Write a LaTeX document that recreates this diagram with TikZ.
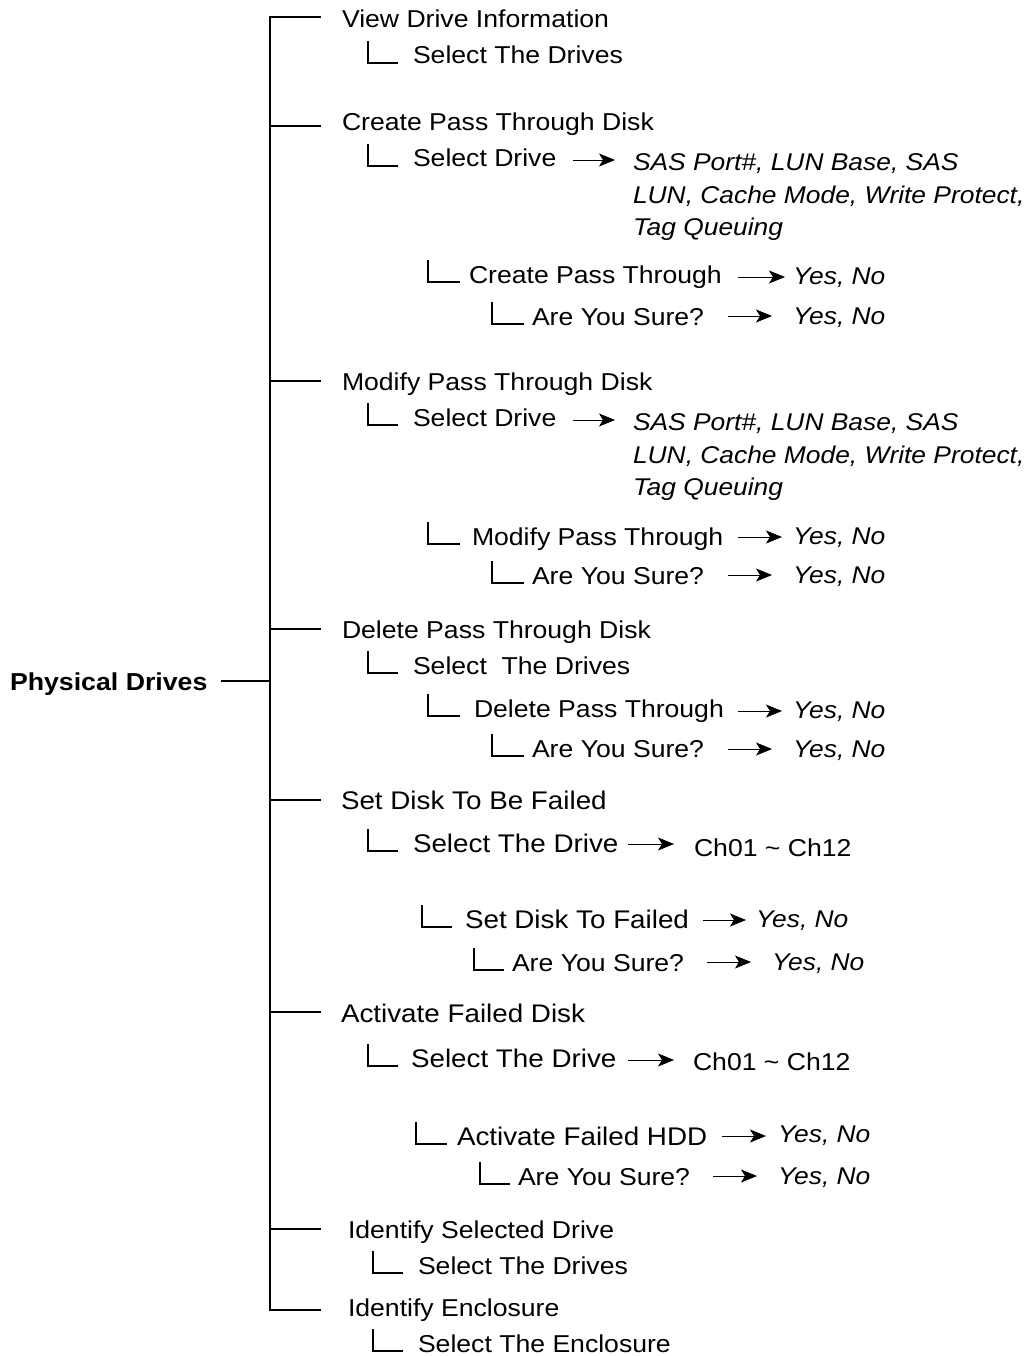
\documentclass[tikz,border=0pt]{standalone}
\usepackage{fontspec}
\setmainfont{Liberation Sans}[FakeStretch=1.09]
\usetikzlibrary{arrows.meta,calc}
\tikzset{
  txt/.style={anchor=base west,inner sep=0pt,outer sep=0pt,text height=17pt,text depth=5pt},
  big/.style={font=\fontsize{25.5}{25.5}\selectfont},
  opt/.style={txt,font=\fontsize{24.2}{24.2}\selectfont\itshape},
  tree/.style={line width=2.2pt,line cap=rect},
  lbrs/.style={line width=1.9pt},
  arr/.style={line width=0.7pt,-{Stealth[length=16pt,width=13pt,inset=4pt]}}
}
% L-bracket in front of node #1: vertical at base west - #2, horizontal end at base west - #3
\newcommand{\Lbrk}[3]{\draw[lbrs] ($(#1.base west)+(-#2,-23)$) |- ($(#1.base west)+(-#3,-1)$);}
% arrow from source #1 (start offset #2, vertical offset #3) to target #4 (gap #5), id #6
\newcommand{\Arr}[6]{%
  \coordinate (#6s) at ($(#1.base west)+(#2,#3)$);%
  \coordinate (#6e) at ($(#4.base west)+(-#5,0)$);%
  \draw[arr] (#6s) -- (#6s -| #6e);}
\begin{document}
\begin{tikzpicture}[x=1pt,y=-1pt,every node/.style={font=\fontsize{24.4}{24.4}\selectfont}]
\useasboundingbox (0,0) rectangle (1032,1356);

% root
\node[txt,font=\fontsize{24.5}{24.5}\selectfont\bfseries] (pd) at (10,690) {Physical Drives};

% trunk
\coordinate (ttop) at (270,17);
\coordinate (tbot) at (270,1310);
\draw[tree] (ttop) -- (tbot);
\draw[tree] ($(pd.base east)+(15,-9)$) -- (270,681);

% top-level items
\node[txt] (v1) at (342,28) {View Drive Information};
\node[txt] (c1) at (342,131) {Create Pass Through Disk};
\node[txt] (m1) at (342,390) {Modify Pass Through Disk};
\node[txt] (d1) at (342,638) {Delete Pass Through Disk};
\node[txt,big] (s1) at (341,809) {Set Disk To Be Failed};
\node[txt,big] (a1) at (341,1022) {Activate Failed Disk};
\node[txt] (i1) at (348,1238) {Identify Selected Drive};
\node[txt] (i2) at (348,1316) {Identify Enclosure};

\foreach \n/\ty in {v1/17,c1/126,m1/381,d1/629,s1/800,a1/1012,i1/1229,i2/1310}{
  \draw[tree] (270,\ty) -- (320,\ty);
}

% View Drive Information
\node[txt] (v1s) at (413,64) {Select The Drives};
\Lbrk{v1s}{45}{15}

% Create Pass Through Disk
\node[txt] (c1s) at (413,167) {Select Drive};
\Lbrk{c1s}{45}{15}
\node[opt] (c1o1) at (633,171) {SAS Port\#, LUN Base, SAS};
\node[opt] (c1o2) at (633,204) {LUN, Cache Mode, Write Protect,};
\node[opt] (c1o3) at (633,236) {Tag Queuing};
\Arr{c1s}{160}{-7}{c1o1}{18}{ac1}
\node[txt] (c1c) at (469,283) {Create Pass Through};
\Lbrk{c1c}{41}{9}
\node[opt] (c1cy) at (793,284) {Yes, No};
\Arr{c1c}{269}{-6}{c1cy}{8}{ac2}
\node[txt] (c1a) at (532,325) {Are You Sure?};
\Lbrk{c1a}{40}{8}
\node[opt] (c1ay) at (793,324) {Yes, No};
\Arr{c1a}{196}{-9}{c1ay}{21}{ac3}

% Modify Pass Through Disk
\node[txt] (m1s) at (413,426) {Select Drive};
\Lbrk{m1s}{45}{15}
\node[opt] (m1o1) at (633,430) {SAS Port\#, LUN Base, SAS};
\node[opt] (m1o2) at (633,463) {LUN, Cache Mode, Write Protect,};
\node[opt] (m1o3) at (633,495) {Tag Queuing};
\Arr{m1s}{160}{-6}{m1o1}{18}{am1}
\node[txt] (m1m) at (472,545) {Modify Pass Through};
\Lbrk{m1m}{44}{12}
\node[opt] (m1my) at (793,544) {Yes, No};
\Arr{m1m}{266}{-8}{m1my}{11}{am2}
\node[txt] (m1a) at (532,584) {Are You Sure?};
\Lbrk{m1a}{40}{8}
\node[opt] (m1ay) at (793,583) {Yes, No};
\Arr{m1a}{196}{-9}{m1ay}{21}{am3}

% Delete Pass Through Disk
\node[txt] (d1s) at (413,674) {Select\ \ The Drives};
\Lbrk{d1s}{45}{15}
\node[txt] (d1d) at (474,717) {Delete Pass Through};
\Lbrk{d1d}{46}{14}
\node[opt] (d1dy) at (793,718) {Yes, No};
\Arr{d1d}{264}{-6}{d1dy}{11}{ad2}
\node[txt] (d1a) at (532,757) {Are You Sure?};
\Lbrk{d1a}{40}{8}
\node[opt] (d1ay) at (793,757) {Yes, No};
\Arr{d1a}{196}{-8}{d1ay}{21}{ad3}

% Set Disk To Be Failed
\node[txt,big] (s1s) at (413,852) {Select The Drive};
\Lbrk{s1s}{45}{15}
\node[txt] (s1c) at (694,856) {Ch01 \textasciitilde{} Ch12};
\Arr{s1s}{215}{-8}{s1c}{20}{as1}
\node[txt,big] (s1f) at (465,928) {Set Disk To Failed};
\Lbrk{s1f}{43}{13}
\node[opt] (s1fy) at (756,927) {Yes, No};
\Arr{s1f}{238}{-8}{s1fy}{10}{as2}
\node[txt] (s1a) at (512,971) {Are You Sure?};
\Lbrk{s1a}{38}{8}
\node[opt] (s1ay) at (772,970) {Yes, No};
\Arr{s1a}{195}{-9}{s1ay}{21}{as3}

% Activate Failed Disk
\node[txt,big] (a1s) at (411,1067) {Select The Drive};
\Lbrk{a1s}{43}{13}
\node[txt] (a1c) at (693,1070) {Ch01 \textasciitilde{} Ch12};
\Arr{a1s}{217}{-7}{a1c}{19}{aa1}
\node[txt,big] (a1h) at (457,1145) {Activate Failed HDD};
\Lbrk{a1h}{41}{10}
\node[opt] (a1hy) at (778,1142) {Yes, No};
\Arr{a1h}{265}{-9}{a1hy}{12}{aa2}
\node[txt] (a1a) at (518,1185) {Are You Sure?};
\Lbrk{a1a}{38}{8}
\node[opt] (a1ay) at (778,1184) {Yes, No};
\Arr{a1a}{195}{-9}{a1ay}{21}{aa3}

% Identify Selected Drive
\node[txt] (i1s) at (418,1274) {Select The Drives};
\Lbrk{i1s}{45}{15}

% Identify Enclosure
\node[txt] (i2s) at (418,1352) {Select The Enclosure};
\Lbrk{i2s}{45}{15}
\end{tikzpicture}
\end{document}
